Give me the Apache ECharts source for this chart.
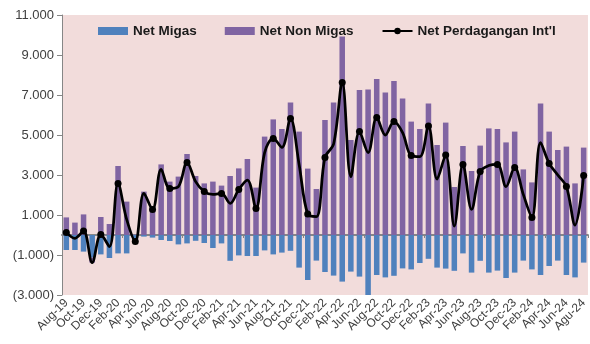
<!DOCTYPE html>
<html>
<head>
<meta charset="utf-8">
<script src="https://cdn.jsdelivr.net/npm/echarts@6/dist/echarts.min.js"></script>
<style>
  html, body { margin: 0; padding: 0; background: #ffffff; }
  #chart { width: 590px; height: 344px; }
</style>
</head>
<body>
<div id="chart"></div>
<script>
// Monthly periods, Aug 2019 – Aug 2024 (USD million)
const months = [
  'Aug-19','Sep-19','Oct-19','Nov-19','Dec-19',
  'Jan-20','Feb-20','Mar-20','Apr-20','May-20','Jun-20','Jul-20','Aug-20','Sep-20','Oct-20','Nov-20','Dec-20',
  'Jan-21','Feb-21','Mar-21','Apr-21','May-21','Jun-21','Jul-21','Aug-21','Sep-21','Oct-21','Nov-21','Dec-21',
  'Jan-22','Feb-22','Mar-22','Apr-22','May-22','Jun-22','Jul-22','Aug-22','Sep-22','Oct-22','Nov-22','Dec-22',
  'Jan-23','Feb-23','Mar-23','Apr-23','May-23','Jun-23','Jul-23','Aug-23','Sep-23','Oct-23','Nov-23','Dec-23',
  'Jan-24','Feb-24','Mar-24','Apr-24','May-24','Jun-24','Jul-24','Agu-24'
];

// Oil & gas balance
const netMigas = [
  -750, -750, -830, -1130, -970,
  -1150, -920, -920, -350, -80, -130, -250, -300, -470, -420, -290, -400,
  -650, -420, -1290, -1020, -1050, -1050, -770, -970, -880, -790, -1630, -2250,
  -1280, -1850, -2030, -2330, -1830, -2080, -3000, -2000, -2120, -2040, -1670, -1720,
  -1400, -1190, -1630, -1680, -1790, -920, -1880, -1290, -1880, -1780, -2150, -1880,
  -1280, -1720, -2000, -1550, -1280, -2000, -2120, -1380
];

// Non oil & gas balance
const netNonMigas = [
  880, 620, 1030, -250, 900,
  550, 3450, 1670, 20, 2170, 1430, 3530, 2670, 2920, 4050, 2950, 2580,
  2670, 2470, 2950, 3330, 3800, 2370, 4920, 5780, 5300, 6630, 5170, 3320,
  2300, 5750, 6620, 9920, 4750, 7250, 7280, 7800, 7130, 7700, 6820, 5670,
  5300, 6580, 4500, 5620, 2400, 4450, 3200, 4470, 5330, 5300, 4630, 5170,
  3280, 2630, 6580, 5170, 4250, 4420, 2580, 4370
];

// Total international trade balance
const netPerdagangan = [
  130, -170, 200, -1380, 30,
  -580, 2580, 780, -330, 2080, 1280, 3280, 2330, 2420, 3630, 2670, 2170,
  2030, 2080, 1580, 2280, 2750, 1330, 4120, 4830, 4380, 5830, 3530, 1050,
  920, 3880, 4550, 7630, 2920, 5170, 4120, 5880, 5000, 5670, 5120, 3970,
  3920, 5450, 2800, 4000, 440, 3530, 1280, 3170, 3470, 3530, 2420, 3380,
  2030, 880, 4620, 3580, 3000, 2420, 500, 2970
];

// Value-axis tick labels
const yTicks = [-3000, -1000, 1000, 3000, 5000, 7000, 9000, 11000];

function fmtThousands(v) {
  const s = Math.abs(v).toFixed(0).replace(/\B(?=(\d{3})+(?!\d))/g, '.');
  return v < 0 ? '(' + s + ')' : s;
}

const FONT = 'Liberation Sans';
const AXIS_GRAY = '#868686';
const TEXT_GRAY = '#404040';

const chart = echarts.init(document.getElementById('chart'), null, { renderer: 'canvas' });

chart.setOption({
  animation: false,
  backgroundColor: '#ffffff',
  textStyle: { fontFamily: FONT },
  grid: {
    left: 62, right: 0, top: 15, bottom: 49,
    show: true, backgroundColor: '#F2DCDB', borderWidth: 0
  },
  legend: {
    left: 93, top: 19,
    itemWidth: 30, itemHeight: 8, itemGap: 28,
    textStyle: { fontFamily: FONT, fontSize: 13.5, fontWeight: 'bold', color: '#1a1a1a' },
    data: [
      { name: 'Net Migas', icon: 'rect' },
      { name: 'Net Non Migas', icon: 'rect' },
      { name: "Net Perdagangan Int'l" }
    ]
  },
  xAxis: [
    {
      type: 'category',
      data: months,
      position: 'bottom',
      axisLine: { show: false, onZero: false },
      axisTick: { show: false },
      axisLabel: {
        interval: 1, rotate: 45, margin: 6,
        showMinLabel: true, showMaxLabel: true,
        fontFamily: FONT, fontSize: 12, color: TEXT_GRAY
      }
    },
    {
      // zero baseline with category ticks
      type: 'category',
      data: months,
      position: 'top',
      axisLine: { show: true, onZero: true, lineStyle: { color: AXIS_GRAY, width: 2 } },
      axisTick: { show: true, inside: true, length: 3, lineStyle: { color: AXIS_GRAY } },
      axisLabel: { show: false }
    }
  ],
  yAxis: {
    type: 'value',
    min: -3000, max: 11000,
    axisLine: { show: true, lineStyle: { color: AXIS_GRAY, width: 1 } },
    axisTick: { show: true, length: 5, customValues: yTicks, lineStyle: { color: AXIS_GRAY } },
    splitLine: { show: false },
    axisLabel: {
      customValues: yTicks, margin: 8,
      fontFamily: FONT, fontSize: 13, color: TEXT_GRAY,
      formatter: v => fmtThousands(v)
    }
  },
  series: [
    {
      name: 'Net Migas', type: 'bar', stack: 'neraca',
      barWidth: '64%',
      itemStyle: { color: '#4F81BD' },
      data: netMigas
    },
    {
      name: 'Net Non Migas', type: 'bar', stack: 'neraca',
      itemStyle: { color: '#8064A2' },
      data: netNonMigas
    },
    {
      name: "Net Perdagangan Int'l", type: 'line',
      smooth: 0.35,
      symbol: 'circle', symbolSize: 7,
      lineStyle: { color: '#000000', width: 2.75 },
      itemStyle: { color: '#000000' },
      z: 5,
      data: netPerdagangan
    }
  ]
});
</script>
</body>
</html>
